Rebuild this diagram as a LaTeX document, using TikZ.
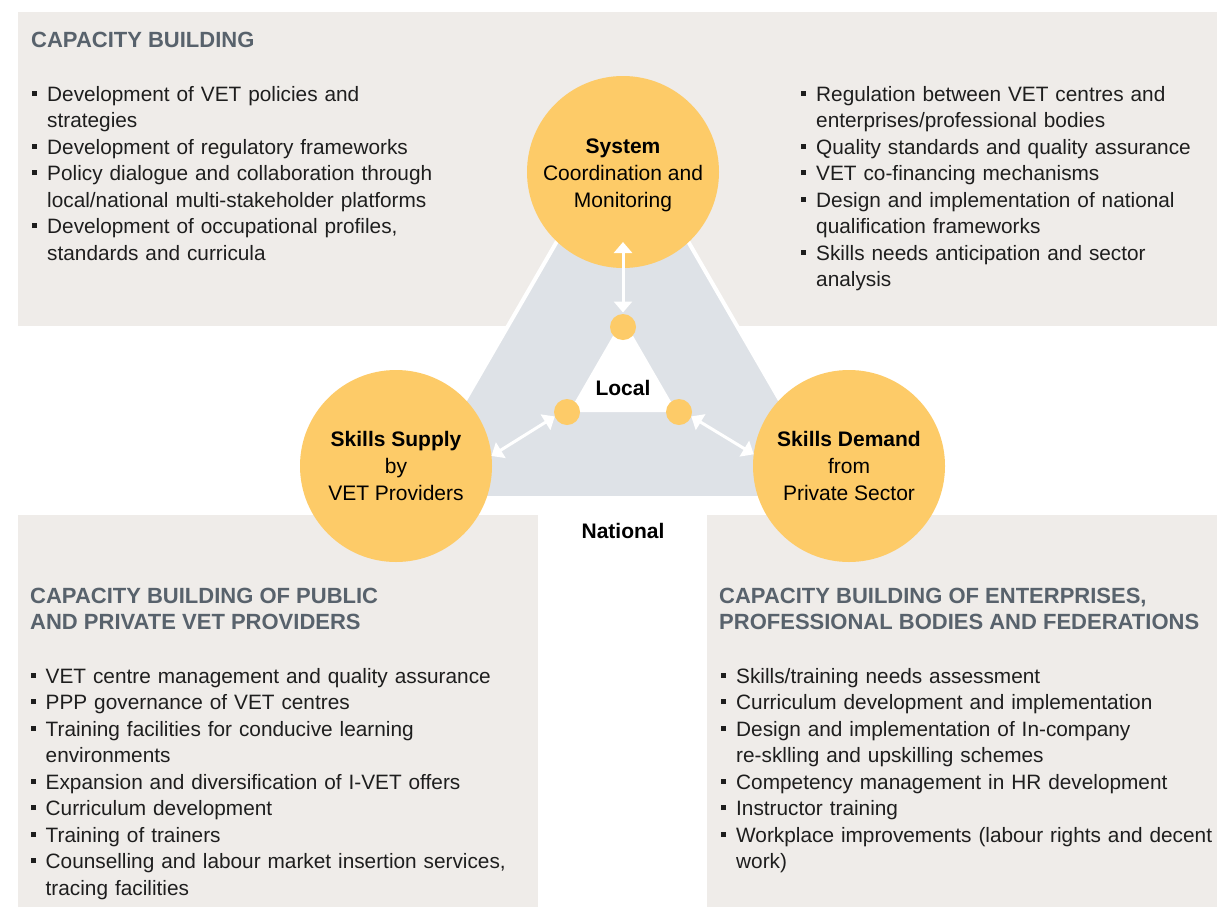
\documentclass[tikz,border=0pt]{standalone}
\usepackage{fontspec}
\setmainfont{Liberation Sans}
\usetikzlibrary{arrows.meta}
\definecolor{panelc}{HTML}{EFECE9}
\definecolor{tric}{HTML}{DEE2E7}
\definecolor{goldc}{HTML}{FDCB68}
\definecolor{headc}{HTML}{58626C}
\definecolor{inkc}{HTML}{1E1E1E}
\newcommand\bitem[1]{\noindent\hangindent=15pt\hangafter=1\makebox[15pt][l]{\raisebox{5.5pt}{\rule{4.8pt}{4.8pt}}}#1\par}
\tikzset{
  headtxt/.style={anchor=base west, inner sep=0pt, align=left, text=headc,
    font=\fontsize{22}{26}\selectfont\bfseries},
  listtxt/.style={anchor=base west, inner sep=0pt, text width=560pt, text=inkc,
    font=\fontsize{20.8}{26.5}\selectfont},
  bigc/.style={circle, fill=goldc, minimum size=192pt, inner sep=0pt, outer sep=0pt,
    align=center, text=black, font=\fontsize{21}{27}\selectfont},
  smallc/.style={circle, fill=goldc, minimum size=26pt, inner sep=0pt, outer sep=0pt},
  levtxt/.style={anchor=base, inner sep=0pt, text=black, font=\fontsize{21}{26}\selectfont\bfseries},
  warrow/.style={draw=white, line width=3pt, {Triangle[length=11pt 0 0,width=18pt 0 0]}-{Triangle[length=11pt 0 0,width=18pt 0 0]}}
}
\begin{document}
\begin{tikzpicture}[x=1pt,y=-1pt]
\useasboundingbox (0,0) rectangle (1217,908);
\fill[white] (0,0) rectangle (1217,908);
% panels
\fill[panelc] (18,12) rectangle (1217,326);
\fill[panelc] (18,515) rectangle (538,907);
\fill[panelc] (707,515) rectangle (1217,907);
% big triangle
\filldraw[fill=tric, draw=white, line width=4pt, line join=miter]
  (622.5,128) -- (836.5,498) -- (408.5,498) -- cycle;
% inner white triangle
\fill[white] (623,318.5) -- (677,412) -- (569,412) -- cycle;
% small circles
\node[smallc] (lt) at (623,327) {};
\node[smallc] (ll) at (567,412) {};
\node[smallc] (lr) at (679,412) {};
% big circles
\node[bigc] (sys) at (623,172) {\rule{0pt}{21pt}\textbf{System}\\Coordination and\\Monitoring};
\node[bigc] (sup) at (396,466) {\textbf{Skills Supply}\\by\\VET Providers};
\node[bigc] (dem) at (849,466) {\textbf{Skills Demand}\\from\\Private Sector};
% arrows
\draw[warrow, shorten <=70pt, shorten >=1.5pt] (sys.center) -- (lt);
\draw[warrow] (sup.6.5) -- (ll.200);
\draw[warrow] (lr.-20) -- (dem.173.5);
% level labels
\node[levtxt] (local) at (623,395) {Local};
\node[levtxt] (national) at (623,538) {National};
% headings
\node[headtxt] (h1) at (31,47) {CAPACITY BUILDING};
\node[headtxt] (h2) at (30,629) {CAPACITY BUILDING OF PUBLIC\\AND PRIVATE VET PROVIDERS};
\node[headtxt] (h3) at (719,629) {CAPACITY BUILDING OF ENTERPRISES,\\PROFESSIONAL BODIES AND FEDERATIONS};
% lists
\node[listtxt] (l1) at (32,101) {%
\bitem{Development of VET policies and\newline strategies}%
\bitem{Development of regulatory frameworks}%
\bitem{Policy dialogue and collaboration through\newline local/national multi-stakeholder platforms}%
\bitem{Development of occupational profiles,\newline standards and curricula}};
\node[listtxt] (l2) at (801,101) {%
\bitem{Regulation between VET centres and\newline enterprises/professional bodies}%
\bitem{Quality standards and quality assurance}%
\bitem{VET co-financing mechanisms}%
\bitem{Design and implementation of national\newline qualification frameworks}%
\bitem{Skills needs anticipation and sector\newline analysis}};
\node[listtxt] (l3) at (30.5,683) {%
\bitem{VET centre management and quality assurance}%
\bitem{PPP governance of VET centres}%
\bitem{Training facilities for conducive learning\newline environments}%
\bitem{Expansion and diversification of I-VET offers}%
\bitem{Curriculum development}%
\bitem{Training of trainers}%
\bitem{Counselling and labour market insertion services,\newline tracing facilities}};
\node[listtxt] (l4) at (721,683) {%
\bitem{Skills/training needs assessment}%
\bitem{Curriculum development and implementation}%
\bitem{Design and implementation of In-company\newline re-sklling and upskilling schemes}%
\bitem{Competency management in HR development}%
\bitem{Instructor training}%
\bitem{Workplace improvements (labour rights and decent\newline work)}};
\end{tikzpicture}
\end{document}
